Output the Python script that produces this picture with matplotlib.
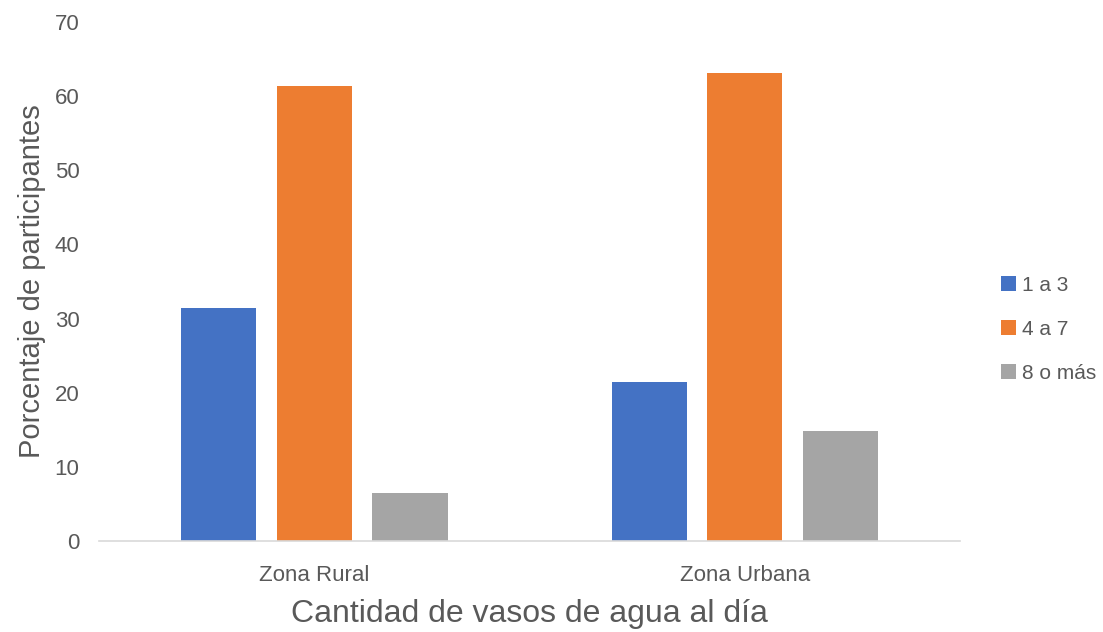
import matplotlib
matplotlib.use("Agg")
import matplotlib.pyplot as plt
import numpy as np

plt.rcParams['font.family'] = ['Liberation Sans', 'DejaVu Sans']

categories = ["Zona Rural", "Zona Urbana"]
series_names = ["1 a 3", "4 a 7", "8 o más"]
val_1a3 = [31.4, 21.4]
val_4a7 = [61.4, 63.1]
val_8mas = [6.5, 14.8]
colors = ["#4472C4", "#ED7D31", "#A5A5A5"]

fig = plt.figure(figsize=(11.03, 6.32), dpi=100)
ax = fig.add_axes([0.0898, 0.144, 0.7806, 0.821])

x = np.arange(len(categories))
w = 0.175
step = 0.222
for i, (vals, name, c) in enumerate(zip([val_1a3, val_4a7, val_8mas], series_names, colors)):
    ax.bar(x + (i - 1) * step, vals, width=w, color=c, label=name)

ax.set_xlim(-0.5, 1.5)
ax.set_ylim(0, 70)
ax.set_yticks(range(0, 71, 10))
ax.set_xticks(x)
ax.set_xticklabels(categories)
for s in ["top", "right", "left"]:
    ax.spines[s].set_visible(False)
ax.spines["bottom"].set_color("#D9D9D9")
ax.spines["bottom"].set_linewidth(1.2)
ax.tick_params(axis="both", length=0, colors="#595959", labelsize=16)
ax.tick_params(axis="x", pad=17)
ax.tick_params(axis="y", pad=14)
ax.set_ylabel("Porcentaje de participantes", fontsize=21, color="#595959", labelpad=6)
ax.set_xlabel("Cantidad de vasos de agua al día", fontsize=23, color="#595959", labelpad=10)

leg = ax.legend(loc="center left", bbox_to_anchor=(1.026, 0.408), frameon=False,
                fontsize=15, handlelength=0.7, handleheight=0.7, handletextpad=0.3,
                labelspacing=1.2, labelcolor="#595959")

fig.savefig("out.png", dpi=100)
